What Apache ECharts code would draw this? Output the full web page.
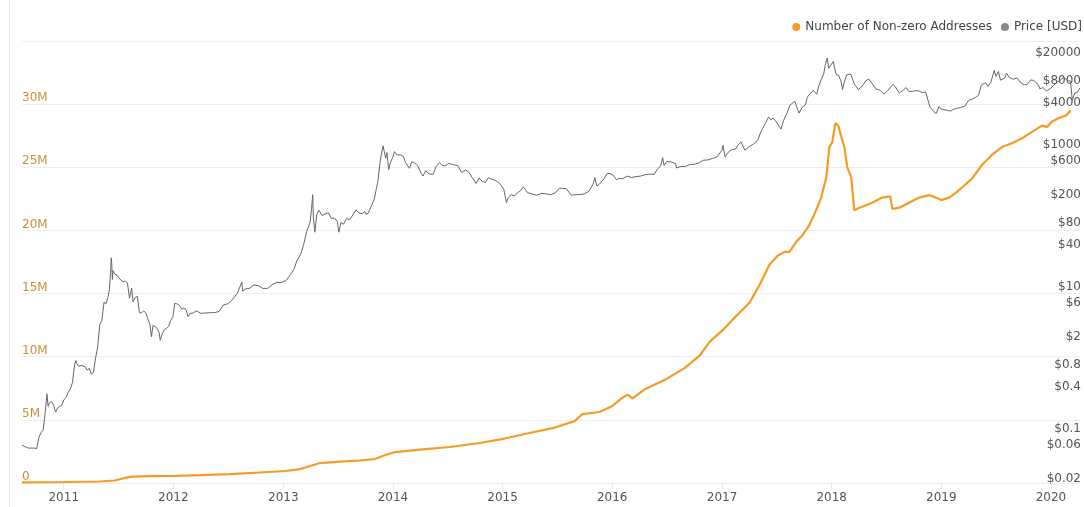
<!DOCTYPE html>
<html>
<head>
<meta charset="utf-8">
<title>Bitcoin: Number of Non-zero Addresses vs Price</title>
<script src="https://cdn.jsdelivr.net/npm/echarts@6/dist/echarts.min.js"></script>
<style>
  html, body { margin: 0; padding: 0; background: #ffffff; }
  #chart { width: 1084px; height: 507px; }
</style>
</head>
<body>
<div id="chart"></div>
<script>
// Number of non-zero addresses (count)
const addrDates = [
  '2010-08-15','2011-01-01','2011-05-01','2011-06-20','2011-07-23','2011-08-19','2011-10-15',
  '2012-01-06','2012-03-30','2012-07-07','2012-10-15',
  '2013-01-07','2013-02-26','2013-04-01','2013-05-03','2013-07-08','2013-09-13','2013-11-02','2013-12-05',
  '2014-01-08','2014-04-01','2014-07-09','2014-10-17',
  '2015-01-08','2015-04-01','2015-06-24','2015-08-29','2015-09-24','2015-11-20',
  '2016-01-02','2016-02-01','2016-02-21','2016-03-09','2016-04-17','2016-06-23','2016-08-29','2016-10-19','2016-11-21',
  '2017-01-03','2017-02-12','2017-04-03','2017-05-06','2017-06-08','2017-07-05','2017-07-28','2017-08-13',
  '2017-09-05','2017-09-25','2017-10-18','2017-11-10','2017-11-27','2017-12-14','2017-12-24',
  '2018-01-03','2018-01-13','2018-01-23','2018-02-02','2018-02-12','2018-02-22','2018-03-07','2018-03-17',
  '2018-04-03','2018-04-26','2018-05-16','2018-06-18','2018-07-15','2018-07-22','2018-08-14','2018-09-16',
  '2018-10-19','2018-11-21','2018-12-14',
  '2019-01-01','2019-01-27','2019-02-19','2019-03-11','2019-04-13','2019-05-17','2019-06-19','2019-07-22',
  '2019-08-24','2019-09-27','2019-10-30','2019-12-02','2019-12-19',
  '2020-01-04','2020-01-27','2020-02-20','2020-03-07'
];
const addrValues = [
  50000, 80000, 120000, 200000, 400000, 510000, 550000,
  570000, 630000, 710000, 830000,
  950000, 1100000, 1350000, 1580000, 1700000, 1780000, 1900000, 2200000,
  2450000, 2650000, 2850000, 3170000,
  3520000, 3960000, 4390000, 4900000, 5460000, 5620000,
  6100000, 6700000, 7000000, 6700000, 7400000, 8150000, 9100000, 10100000, 11200000,
  12100000, 13100000, 14300000, 15700000, 17300000, 18000000, 18300000, 18300000,
  19100000, 19600000, 20400000, 21600000, 22600000, 24200000, 26600000,
  27000000, 28500000, 28300000, 27400000, 26600000, 25000000, 24200000, 21600000,
  21800000, 22000000, 22200000, 22600000, 22700000, 21700000, 21800000, 22200000,
  22600000, 22800000, 22600000,
  22400000, 22600000, 23000000, 23400000, 24100000, 25200000, 26000000, 26600000,
  26900000, 27300000, 27800000, 28300000, 28200000,
  28600000, 28900000, 29100000, 29500000
];

// Price in USD
const priceDates = [
  '2010-08-15','2010-08-22','2010-08-29','2010-09-05','2010-09-12','2010-09-19','2010-09-26','2010-10-03',
  '2010-10-10','2010-10-17','2010-10-24','2010-10-31','2010-11-06','2010-11-10','2010-11-14','2010-11-21',
  '2010-11-28','2010-12-05','2010-12-12','2010-12-19','2010-12-26',
  '2011-01-02','2011-01-09','2011-01-16','2011-01-23','2011-01-30','2011-02-06','2011-02-10','2011-02-13',
  '2011-02-20','2011-02-27','2011-03-06','2011-03-13','2011-03-20','2011-03-27','2011-04-03','2011-04-10',
  '2011-04-17','2011-04-24','2011-05-01','2011-05-08','2011-05-15','2011-05-22','2011-05-29','2011-06-02',
  '2011-06-06','2011-06-08','2011-06-10','2011-06-12','2011-06-14','2011-06-20','2011-06-27','2011-07-04',
  '2011-07-11','2011-07-18','2011-07-25','2011-08-01','2011-08-08','2011-08-15','2011-08-20','2011-08-27',
  '2011-09-03','2011-09-10','2011-09-17','2011-09-24','2011-10-01','2011-10-08','2011-10-15','2011-10-20',
  '2011-10-25','2011-11-01','2011-11-08','2011-11-15','2011-11-18','2011-11-25','2011-12-02','2011-12-09',
  '2011-12-16','2011-12-23','2011-12-30',
  '2012-01-06','2012-01-09','2012-01-15','2012-01-22','2012-01-29','2012-02-05','2012-02-12','2012-02-19',
  '2012-02-26','2012-03-04','2012-03-18','2012-04-01','2012-04-15','2012-05-01','2012-05-15','2012-06-01',
  '2012-06-15','2012-07-01','2012-07-15','2012-08-01','2012-08-16','2012-08-19','2012-08-26','2012-09-10',
  '2012-09-25','2012-10-10','2012-10-25','2012-11-10','2012-11-25','2012-12-10','2012-12-25',
  '2013-01-10','2013-01-25','2013-02-05','2013-02-15','2013-02-28','2013-03-10','2013-03-20','2013-03-31',
  '2013-04-05','2013-04-09','2013-04-11','2013-04-16','2013-04-22','2013-04-30','2013-05-10','2013-05-20',
  '2013-05-31','2013-06-10','2013-06-20','2013-06-30','2013-07-05','2013-07-12','2013-07-20','2013-07-31',
  '2013-08-10','2013-08-20','2013-08-31','2013-09-10','2013-09-20','2013-09-30','2013-10-03','2013-10-10',
  '2013-10-20','2013-10-31','2013-11-07','2013-11-12','2013-11-18','2013-11-22','2013-11-29','2013-12-04',
  '2013-12-08','2013-12-12','2013-12-18','2013-12-24','2013-12-31',
  '2014-01-06','2014-01-15','2014-01-25','2014-02-05','2014-02-12','2014-02-25','2014-03-05','2014-03-15',
  '2014-03-25','2014-04-05','2014-04-11','2014-04-20','2014-05-01','2014-05-15','2014-05-25','2014-06-05',
  '2014-06-15','2014-06-25','2014-07-05','2014-07-15','2014-07-25','2014-08-05','2014-08-18','2014-08-30',
  '2014-09-10','2014-09-22','2014-10-05','2014-10-15','2014-10-25','2014-11-05','2014-11-15','2014-11-25',
  '2014-12-05','2014-12-15','2014-12-25',
  '2015-01-05','2015-01-14','2015-01-20','2015-01-30','2015-02-10','2015-02-20','2015-03-01','2015-03-12',
  '2015-03-25','2015-04-10','2015-04-25','2015-05-10','2015-05-25','2015-06-10','2015-06-25','2015-07-10',
  '2015-07-20','2015-08-01','2015-08-18','2015-08-30','2015-09-15','2015-09-30','2015-10-15','2015-10-30',
  '2015-11-04','2015-11-11','2015-11-20','2015-12-05','2015-12-15','2015-12-25',
  '2016-01-05','2016-01-15','2016-01-25','2016-02-05','2016-02-20','2016-03-05','2016-03-20','2016-04-05',
  '2016-04-20','2016-05-05','2016-05-20','2016-05-31','2016-06-10','2016-06-17','2016-06-22','2016-07-01',
  '2016-07-15','2016-07-31','2016-08-02','2016-08-15','2016-09-01','2016-09-15','2016-10-01','2016-10-15',
  '2016-10-30','2016-11-15','2016-11-30','2016-12-15','2016-12-31',
  '2017-01-04','2017-01-11','2017-01-20','2017-02-01','2017-02-15','2017-02-25','2017-03-05','2017-03-18',
  '2017-03-31','2017-04-15','2017-04-30','2017-05-10','2017-05-25','2017-06-05','2017-06-12','2017-06-20',
  '2017-07-01','2017-07-16','2017-07-25','2017-08-05','2017-08-15','2017-08-31','2017-09-14','2017-09-25',
  '2017-10-05','2017-10-12','2017-10-20','2017-11-01','2017-11-12','2017-11-20','2017-11-28','2017-12-06',
  '2017-12-10','2017-12-17','2017-12-22','2017-12-28',
  '2018-01-06','2018-01-16','2018-01-24','2018-02-01','2018-02-06','2018-02-12','2018-02-20','2018-03-05',
  '2018-03-18','2018-03-31','2018-04-06','2018-04-15','2018-04-25','2018-05-05','2018-05-15','2018-05-28',
  '2018-06-10','2018-06-24','2018-07-05','2018-07-24','2018-08-01','2018-08-14','2018-08-25','2018-09-05',
  '2018-09-15','2018-09-30','2018-10-15','2018-10-30','2018-11-10','2018-11-20','2018-11-25','2018-12-07',
  '2018-12-15','2018-12-24','2018-12-31',
  '2019-01-10','2019-01-20','2019-02-01','2019-02-10','2019-02-24','2019-03-05','2019-03-20','2019-04-02',
  '2019-04-15','2019-04-25','2019-05-05','2019-05-14','2019-05-28','2019-06-05','2019-06-15','2019-06-26',
  '2019-07-02','2019-07-10','2019-07-17','2019-07-31','2019-08-06','2019-08-15','2019-08-28','2019-09-10',
  '2019-09-24','2019-10-05','2019-10-15','2019-10-26','2019-11-05','2019-11-20','2019-11-25','2019-12-05',
  '2019-12-17','2019-12-31',
  '2020-01-10','2020-01-20','2020-01-31','2020-02-13','2020-02-25','2020-03-06','2020-03-12','2020-03-20',
  '2020-03-28','2020-04-06'
];
const priceValues = [
  0.068, 0.066, 0.064, 0.062, 0.062, 0.062, 0.062, 0.061,
  0.087, 0.102, 0.11, 0.19, 0.36, 0.24, 0.27, 0.28,
  0.25, 0.20, 0.23, 0.24, 0.25,
  0.30, 0.32, 0.38, 0.42, 0.52, 0.92, 1.06, 0.97,
  0.88, 0.90, 0.89, 0.87, 0.78, 0.82, 0.68, 0.73,
  1.15, 1.64, 3.45, 3.88, 7.0, 6.7, 8.5, 10.6,
  18.5, 29.6, 23.9, 14.7, 19.5, 17.5, 16.9, 15.4,
  14.3, 13.7, 13.9, 13.1, 8.0, 11.1, 7.1, 8.2,
  8.5, 5.0, 5.0, 5.3, 5.0, 4.1, 3.4, 2.3,
  3.3, 3.2, 3.0, 2.6, 2.05, 2.5, 2.9, 3.0,
  3.2, 3.9, 4.3,
  6.8, 7.1, 6.6, 6.3, 5.6, 5.8, 5.5, 4.4,
  4.9, 4.9, 5.3, 4.9, 4.95, 5.0, 5.0, 5.2,
  6.4, 6.7, 7.6, 9.4, 13.5, 10.0, 10.8, 11.0,
  12.3, 12.0, 11.0, 11.0, 12.4, 13.4, 13.3,
  14.2, 17.2, 20.2, 26.8, 33.4, 46, 70, 93,
  143, 230, 110, 68, 120, 139, 117, 122,
  128, 106, 108, 96, 68, 93, 88, 106,
  102, 118, 140, 127, 124, 133, 122, 125,
  155, 200, 280, 355, 600, 780, 1120, 1150,
  750, 900, 520, 660, 760,
  930, 830, 840, 790, 650, 540, 670, 640,
  580, 460, 420, 500, 450, 445, 575, 650,
  590, 585, 630, 620, 600, 590, 470, 510,
  480, 400, 330, 395, 355, 340, 400, 380,
  370, 350, 320,
  275, 178, 210, 230, 220, 245, 260, 295,
  245, 235, 225, 240, 237, 229, 243, 285,
  280, 280, 225, 230, 230, 236, 255, 325,
  400, 305, 325, 385, 455, 455,
  430, 375, 390, 385, 420, 400, 412, 420,
  440, 447, 443, 530, 580, 760, 590, 675,
  665, 625, 545, 570, 575, 610, 615, 640,
  700, 710, 745, 780, 965,
  1135, 780, 895, 985, 1010, 1180, 1270, 970,
  1080, 1180, 1350, 1760, 2300, 2860, 2600, 2750,
  2420, 1930, 2560, 3230, 4180, 4740, 3230, 3930,
  4220, 5430, 6010, 6750, 5950, 8040, 9800, 11900,
  15100, 19300, 13800, 14400,
  17200, 11200, 11000, 9100, 6950, 8900, 11200, 11500,
  8200, 6900, 6630, 8000, 9300, 9700, 8500, 7100,
  6800, 6000, 6600, 8200, 7600, 6200, 6700, 7400,
  6500, 6600, 6700, 6300, 6400, 4500, 3900, 3400,
  3200, 4000, 3700,
  3600, 3550, 3450, 3650, 3800, 3850, 4050, 4900,
  5100, 5400, 5750, 8000, 8700, 7700, 8800, 12900,
  10600, 12500, 9400, 10100, 11800, 10300, 9700, 10100,
  8500, 8100, 8300, 9500, 9300, 8100, 7100, 7400,
  6650, 7200,
  8000, 8700, 9350, 10300, 9300, 9100, 4900, 6200,
  6300, 7300
];

// Axis labels
const yearTicks = ['2011-01-01','2012-01-01','2013-01-01','2014-01-01','2015-01-01',
                   '2016-01-01','2017-01-01','2018-01-01','2019-01-01','2020-01-01'];
const priceTicks = [0.02, 0.06, 0.1, 0.4, 0.8, 2, 6, 10, 40, 80, 200, 600, 1000, 4000, 8000, 20000];
const countTicks = [0, 5000000, 10000000, 15000000, 20000000, 25000000, 30000000];

const ORANGE = '#f39c26';
const GREY = '#666666';
const FONT = 'DejaVu Sans';

// dates are handled as UTC millisecond timestamps on a numeric axis
const ts = s => Date.parse(s);
const zip = (d, v) => d.map((x, i) => [ts(x), v[i]]);

const chart = echarts.init(document.getElementById('chart'), null, { renderer: 'canvas' });

chart.setOption({
  animation: false,
  backgroundColor: '#ffffff',
  textStyle: { fontFamily: FONT },
  graphic: [{
    type: 'line',
    shape: { x1: 9.5, y1: 0, x2: 9.5, y2: 507 },
    style: { stroke: '#ececec', lineWidth: 1 },
    silent: true
  }],
  legend: {
    right: 2,
    top: 21,
    padding: 0,
    icon: 'circle',
    itemWidth: 8,
    itemHeight: 8,
    itemGap: 9,
    textStyle: { fontFamily: FONT, fontSize: 12, color: '#444' },
    data: [
      { name: 'Number of Non-zero Addresses', itemStyle: { color: ORANGE } },
      { name: 'Price [USD]', itemStyle: { color: '#888888' } }
    ]
  },
  grid: { left: 22, right: 2, top: 41, bottom: 24, containLabel: false },
  xAxis: {
    type: 'value',
    min: ts('2010-08-15'),
    max: ts('2020-04-10'),
    axisLine: { show: false },
    axisTick: {
      show: true,
      customValues: yearTicks.map(ts),
      length: 6,
      lineStyle: { color: '#e8e8e8' }
    },
    axisLabel: {
      customValues: yearTicks.map(ts),
      formatter: v => String(new Date(v).getUTCFullYear()),
      color: '#555',
      fontSize: 12,
      fontFamily: FONT,
      margin: 9
    },
    splitLine: { show: false }
  },
  yAxis: [{
    type: 'value',
    position: 'left',
    min: 0,
    max: 35000000,
    interval: 5000000,
    axisLine: { show: false },
    axisTick: { show: false },
    axisLabel: {
      inside: true,
      customValues: countTicks,
      verticalAlign: 'bottom',
      lineHeight: 12,
      margin: 0,
      color: '#c98f3a',
      fontSize: 12,
      fontFamily: FONT,
      formatter: v => v === 0 ? '0' : (v / 1e6) + 'M'
    },
    splitLine: { show: true, lineStyle: { color: '#eeeeee', width: 1 } }
  }, {
    type: 'log',
    logBase: 10,
    position: 'right',
    min: 0.02,
    max: 33500,
    axisLine: { show: false },
    axisTick: { show: false },
    axisLabel: {
      inside: true,
      customValues: priceTicks,
      verticalAlign: 'bottom',
      lineHeight: 8,
      margin: 0,
      color: '#555',
      fontSize: 12,
      fontFamily: FONT,
      formatter: v => '$' + (+Number(v).toPrecision(6))
    },
    splitLine: { show: false }
  }],
  series: [{
    name: 'Number of Non-zero Addresses',
    type: 'line',
    yAxisIndex: 0,
    showSymbol: false,
    symbol: 'none',
    data: zip(addrDates, addrValues),
    lineStyle: { color: ORANGE, width: 2.2 },
    itemStyle: { color: ORANGE },
    z: 3
  }, {
    name: 'Price [USD]',
    type: 'line',
    yAxisIndex: 1,
    showSymbol: false,
    symbol: 'none',
    data: zip(priceDates, priceValues),
    lineStyle: { color: GREY, width: 1 },
    itemStyle: { color: '#888888' },
    z: 2
  }]
});
</script>
</body>
</html>
